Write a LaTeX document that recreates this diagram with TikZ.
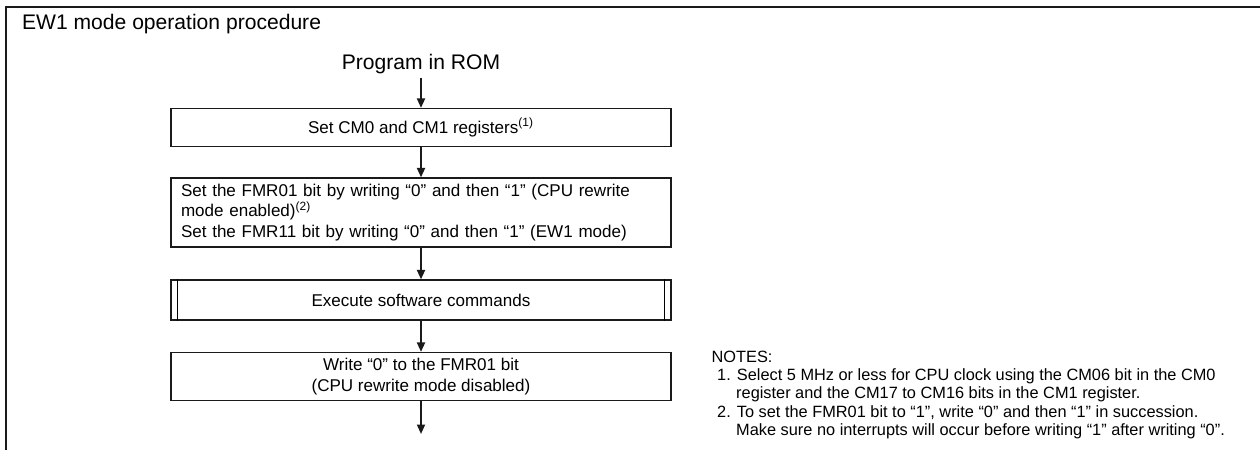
\documentclass[tikz,border=0pt]{standalone}
\usepackage{fontspec}
\setmainfont{Liberation Sans}
\usetikzlibrary{arrows.meta}
\definecolor{cline}{HTML}{1A1A1A}
\tikzset{
  every picture/.style={line width=0.7pt},
  box/.style={draw=cline, minimum width=10cm, align=center, inner sep=0pt, font=\fontsize{9.7}{11.6}\selectfont},
  arrow/.style={-{Triangle[length=1.9mm, width=1.6mm]}, draw=cline, line width=1.1pt},
  title/.style={font=\fontsize{12}{14}\selectfont, inner sep=2pt},
  note/.style={font=\fontsize{9.3}{10.5}\selectfont, align=left, inner sep=0pt},
}

\begin{document}
\begin{tikzpicture}
  \useasboundingbox (0,0) rectangle (25.2,-9);
  % frame: only its top and left edges show
  \draw[cline, line width=1.5pt] (0.12,-9) -- (0.12,-0.14) -- (25.2,-0.14);
  \node[title, anchor=base west] (title) at (0.36,-0.58) {EW1 mode operation procedure};
  \node[title, anchor=base] (rom) at (8.42,-1.38) {Program in ROM};
  \node[box, minimum height=0.76cm] (cmreg) at (8.42,-2.55) {Set CM0 and CM1 registers\textsuperscript{(1)}};
  \node[box, minimum height=1.38cm, text width=9.6cm, align=left] (fmr) at (8.42,-4.25)
    {Set the FMR01 bit by writing “0” and then “1” (CPU rewrite\\
     mode enabled)\textsuperscript{(2)}\\
     Set the FMR11 bit by writing “0” and then “1” (EW1 mode)};
  \node[box, minimum height=0.8cm] (exec) at (8.42,-6.0) {Execute software commands};
  \draw ([xshift=0.14cm]exec.north west) -- ([xshift=0.14cm]exec.south west);
  \draw ([xshift=-0.14cm]exec.north east) -- ([xshift=-0.14cm]exec.south east);
  \node[box, minimum height=0.96cm] (fmroff) at (8.42,-7.53) {Write “0” to the FMR01 bit\\(CPU rewrite mode disabled)};
  \coordinate (end) at (8.42,-8.68);
  % flow
  \draw[arrow] (rom) -- (cmreg);
  \draw[arrow] (cmreg) -- (fmr);
  \draw[arrow] (fmr) -- (exec);
  \draw[arrow] (exec) -- (fmroff);
  \draw[arrow] (fmroff) -- (end);
  % notes
  \node[note, anchor=north west] (notes) at (14.22,-7.0) {NOTES:\\
    \hspace*{3.2pt}1. Select 5 MHz or less for CPU clock using the CM06 bit in the CM0\\
    \hspace*{14pt}register and the CM17 to CM16 bits in the CM1 register.\\
    \hspace*{3.2pt}2. To set the FMR01 bit to “1”, write “0” and then “1” in succession.\\
    \hspace*{14pt}Make sure no interrupts will occur before writing “1” after writing “0”.};
\end{tikzpicture}
\end{document}
